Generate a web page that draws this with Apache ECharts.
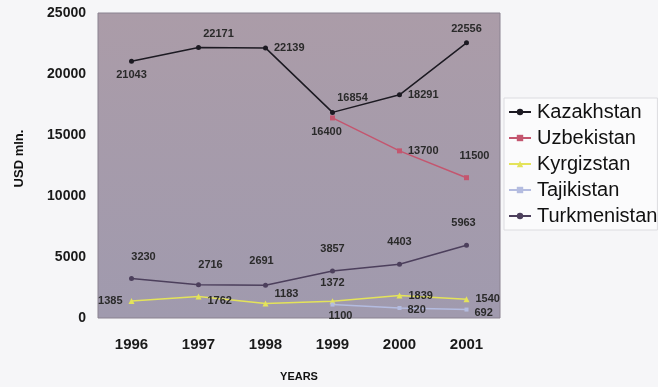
<!DOCTYPE html>
<html>
<head>
<meta charset="utf-8">
<script src="https://cdn.jsdelivr.net/npm/echarts@6/dist/echarts.min.js"></script>
<style>
  html, body { margin: 0; padding: 0; background: #f6f6f8; }
  #main { width: 658px; height: 387px; }
</style>
</head>
<body>
<div id="main"></div>
<script>
// years on the x axis
var years = ['1996', '1997', '1998', '1999', '2000', '2001'];
var yTicks = [0, 5000, 10000, 15000, 20000, 25000];

// export values, USD mln.
var kazakhstan = [21043, 22171, 22139, 16854, 18291, 22556];
var uzbekistan = [null, null, null, 16400, 13700, 11500];
var kyrgyzstan = [1385, 1762, 1183, 1372, 1839, 1540];
var tajikistan = [null, null, null, 1100, 820, 692];
var turkmenistan = [3230, 2716, 2691, 3857, 4403, 5963];

// where each value label sits
var kazPos = ['bottom', 'top', 'right', 'top', 'right', 'top'];
var uzbPos = ['top', 'top', 'top', 'bottom', 'right', 'top'];
var kyrPos = ['left', 'right', 'right', 'top', 'right', 'right'];
var tajPos = ['bottom', 'bottom', 'bottom', 'bottom', 'right', 'right'];
var turPos = ['top', 'top', 'top', 'top', 'top', 'top'];

var font = 'Arial, "Liberation Sans", sans-serif';

function points(values, pos, extra) {
    return values.map(function (v, i) {
        var item = { value: v, label: { position: pos[i] } };
        if (extra && extra[i]) {
            item.label.offset = extra[i];
        }
        return item;
    });
}

function makeSeries(name, values, pos, color, symbol, size, offsets) {
    return {
        name: name,
        type: 'line',
        data: points(values, pos, offsets),
        symbol: symbol,
        symbolSize: size,
        lineStyle: { color: color, width: 1.5 },
        itemStyle: { color: color },
        label: {
            show: true,
            fontFamily: font,
            fontSize: 11,
            fontWeight: 'bold',
            color: '#2a2a2a',
            distance: 6
        }
    };
}

var myChart = echarts.init(document.getElementById('main'));
myChart.setOption({
    backgroundColor: '#f6f6f8',
    animation: false,
    grid: {
        left: 98, right: 158, top: 13, bottom: 66,
        show: true,
        backgroundColor: new echarts.graphic.LinearGradient(0, 0, 0, 1, [
            { offset: 0, color: '#ab9ca8' },
            { offset: 1, color: '#a09aae' }
        ]),
        borderColor: '#8a8290',
        borderWidth: 1
    },
    legend: {
        orient: 'vertical',
        left: 504,
        top: 98,
        itemGap: 6,
        itemWidth: 22,
        itemHeight: 8,
        backgroundColor: '#fbfbfc',
        borderColor: '#dcdce0',
        borderWidth: 1,
        padding: [4, 0, 4, 4],
        textStyle: { fontFamily: font, fontSize: 20, color: '#111', lineHeight: 20, padding: [0, 0, 0, 1] },
        data: ['Kazakhstan', 'Uzbekistan', 'Kyrgizstan', 'Tajikistan', 'Turkmenistan']
    },
    xAxis: {
        type: 'category',
        data: years,
        name: 'YEARS',
        nameLocation: 'middle',
        nameGap: 53,
        nameTextStyle: { fontFamily: font, fontSize: 11, fontWeight: 'bold', color: '#111' },
        axisLine: { show: false },
        axisTick: { show: false },
        axisLabel: { fontFamily: font, fontSize: 15, fontWeight: 'bold', color: '#1a1a1a', margin: 19 }
    },
    yAxis: {
        type: 'value',
        min: yTicks[0],
        max: yTicks[yTicks.length - 1],
        interval: 5000,
        name: 'USD mln.',
        nameLocation: 'middle',
        nameGap: 72,
        nameRotate: 90,
        nameTextStyle: { fontFamily: font, fontSize: 13, fontWeight: 'bold', color: '#111', padding: [0, 0, 0, 14] },
        splitLine: { show: false },
        axisLine: { show: false },
        axisTick: { show: false },
        axisLabel: {
            fontFamily: font, fontSize: 14, fontWeight: 'bold', color: '#1a1a1a', margin: 12,
            formatter: function (v) { return String(v); }
        }
    },
    series: [
        makeSeries('Kazakhstan', kazakhstan, kazPos, '#1c1a22', 'circle', 5,
            [null, [20, 0], null, [20, 0], null, null]),
        makeSeries('Uzbekistan', uzbekistan, uzbPos, '#c4566f', 'rect', 5,
            [null, null, null, [-6, 0], null, [8, -8]]),
        makeSeries('Kyrgizstan', kyrgyzstan, kyrPos, '#e4e35a', 'triangle', 6,
            [null, [0, 4], [0, -10], [0, -4], null, null]),
        makeSeries('Tajikistan', tajikistan, tajPos, '#b4bce0', 'rect', 4,
            [null, null, null, [8, -2], [0, 2], [0, 3]]),
        makeSeries('Turkmenistan', turkmenistan, turPos, '#4c3f5c', 'circle', 5,
            [[12, -8], [12, -6], [-4, -10], [0, -8], [0, -8], [-3, -8]])
    ]
});
</script>
</body>
</html>
